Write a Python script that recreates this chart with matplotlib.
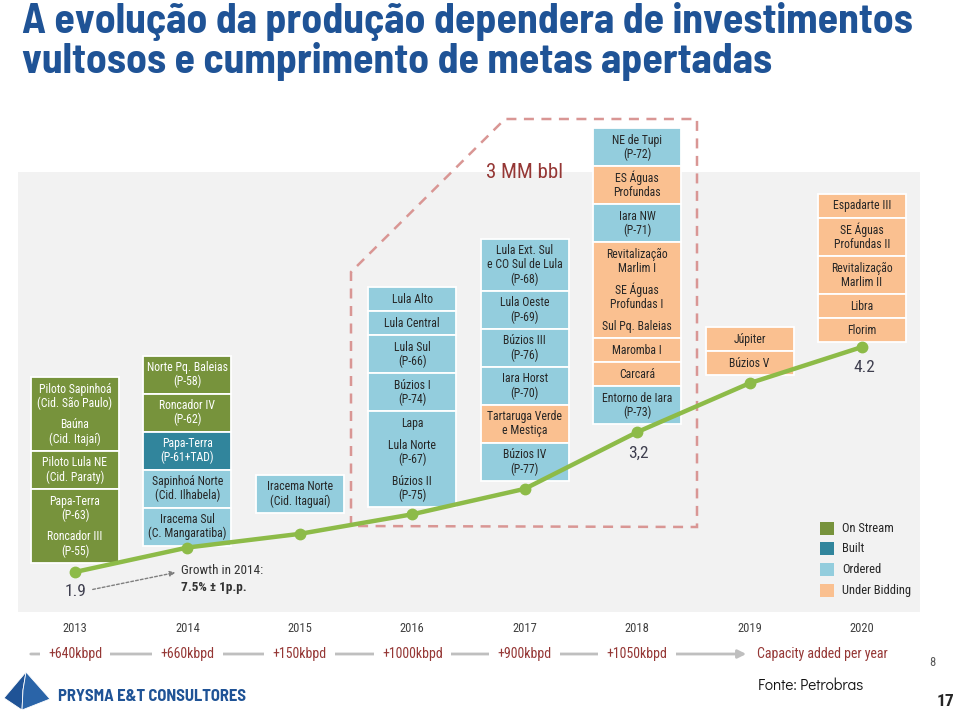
import matplotlib
matplotlib.use('Agg')
import matplotlib.pyplot as plt
from matplotlib.patches import Rectangle, Polygon
from matplotlib import font_manager, transforms

# ---- dados ----
years = [2013, 2014, 2015, 2016, 2017, 2018, 2019, 2020]
production = [1.9, 2.15, 2.29, 2.49, 2.75, 3.33, 3.83, 4.2]   # MM bbl/d (estimado)
point_labels = {2013: '1.9', 2018: '3,2', 2020: '4.2'}
capacity_added = ['+640kbpd', '+660kbpd', '+150kbpd', '+1000kbpd', '+900kbpd', '+1050kbpd']

status_names = ['On Stream', 'Built', 'Ordered', 'Under Bidding']
status_colors = {'On Stream': '#77933c', 'Built': '#31859c',
                 'Ordered': '#93cddd', 'Under Bidding': '#fac090'}

col_2013 = [("Piloto Sapinhoá\n(Cid. São Paulo)\n\nBaúna\n(Cid. Itajaí)", 'On Stream'),
            ("Piloto Lula NE\n(Cid. Paraty)", 'On Stream'),
            ("Papa-Terra\n(P-63)\n\nRoncador III\n(P-55)", 'On Stream')]
col_2014 = [("Norte Pq. Baleias\n(P-58)", 'On Stream'),
            ("Roncador IV\n(P-62)", 'On Stream'),
            ("Papa-Terra\n(P-61+TAD)", 'Built'),
            ("Sapinhoá Norte\n(Cid. Ilhabela)", 'Ordered'),
            ("Iracema Sul\n(C. Mangaratiba)", 'Ordered')]
col_2015 = [("Iracema Norte\n(Cid. Itaguaí)", 'Ordered')]
col_2016 = [("Lula Alto", 'Ordered'),
            ("Lula Central", 'Ordered'),
            ("Lula Sul\n(P-66)", 'Ordered'),
            ("Búzios I\n(P-74)", 'Ordered'),
            ("Lapa\n\nLula Norte\n(P-67)\n\nBúzios II\n(P-75)", 'Ordered')]
col_2017 = [("Lula Ext. Sul\ne CO Sul de Lula\n(P-68)", 'Ordered'),
            ("Lula Oeste\n(P-69)", 'Ordered'),
            ("Búzios III\n(P-76)", 'Ordered'),
            ("Iara Horst\n(P-70)", 'Ordered'),
            ("Tartaruga Verde\ne Mestiça", 'Under Bidding'),
            ("Búzios IV\n(P-77)", 'Ordered')]
col_2018 = [("NE de Tupi\n(P-72)", 'Ordered'),
            ("ES Águas\nProfundas", 'Under Bidding'),
            ("Iara NW\n(P-71)", 'Ordered'),
            ("Revitalização\nMarlim I\n\nSE Águas\nProfundas I\n\nSul Pq. Baleias", 'Under Bidding'),
            ("Maromba I", 'Under Bidding'),
            ("Carcará", 'Under Bidding'),
            ("Entorno de Iara\n(P-73)", 'Ordered')]
col_2019 = [("Júpiter", 'Under Bidding'),
            ("Búzios V", 'Under Bidding')]
col_2020 = [("Espadarte III", 'Under Bidding'),
            ("SE Águas\nProfundas II", 'Under Bidding'),
            ("Revitalização\nMarlim II", 'Under Bidding'),
            ("Libra", 'Under Bidding'),
            ("Florim", 'Under Bidding')]
columns = [col_2013, col_2014, col_2015, col_2016, col_2017, col_2018, col_2019, col_2020]


def pick(*names):
    for n in names:
        try:
            font_manager.findfont(font_manager.FontProperties(family=n), fallback_to_default=False)
            return n
        except ValueError:
            pass
    return 'DejaVu Sans'


NARROW = pick('Roboto Condensed', 'PT Sans Narrow', 'Archivo Narrow', 'Asap Condensed')
TITLE = pick('Barlow Semi Condensed', 'Barlow Condensed', 'Asap Condensed')
LOGO = pick('Barlow Semi Condensed', 'Barlow Condensed', 'Asap Condensed')
ROUND = pick('Didact Gothic', 'Questrial', 'Poppins', 'Lato')

W, H = 960, 713
fig = plt.figure(figsize=(W / 100, H / 100), dpi=100)

# camada de layout em pixels
lay = fig.add_axes([0, 0, 1, 1])
lay.set_xlim(0, W)
lay.set_ylim(H, 0)
lay.axis('off')

# eixo de dados (anos x produção) alinhado ao painel
x0_px, x1_px = 75, 862
y_lo_px, y_hi_px = 572, 347
px_per_year = (x1_px - x0_px) / (years[-1] - years[0])
px_per_unit = (y_lo_px - y_hi_px) / (production[-1] - production[0])

ax = fig.add_axes([0, 0, 1, 1], zorder=3)
ax.patch.set_visible(False)
ax.set_xlim(years[0] - x0_px / px_per_year, years[0] + (W - x0_px) / px_per_year)
ax.set_ylim(production[0] - (H - y_lo_px) / px_per_unit, production[0] + y_lo_px / px_per_unit)
ax.axis('off')

xdata_ypix = transforms.blended_transform_factory(ax.transData, lay.transData)

# painel cinza
lay.add_patch(Rectangle((18, 172), 902, 440, fc='#f2f2f2', ec='none', zorder=0))

# título
title_lines = ["A evolução da produção dependera de investimentos",
               "vultosos e cumprimento de metas apertadas"]
t1 = lay.text(22, 33, title_lines[0], fontsize=30, fontweight='bold', family=TITLE,
              color='#1f5396', va='baseline', ha='left')
t2 = lay.text(22, 73, title_lines[1], fontsize=30, fontweight='bold', family=TITLE,
              color='#1f5396', va='baseline', ha='left')
r = fig.canvas.get_renderer()
w = t1.get_window_extent(r).width
fs = min(30 * 896 / w, 30)
t1.set_fontsize(fs)
t2.set_fontsize(fs)

# colunas de projetos
box_w = 88
gaps = [9, 2, 21, 7, 8, 8, 8, 5]
line_h, blank_h, pad = 14, 8, 5


def cell_height(txt):
    lines = txt.split('\n')
    return 2 * pad + sum(line_h if l else blank_h for l in lines)


for yr, prod, col, gap in zip(years, production, columns, gaps):
    cx = x0_px + (yr - years[0]) * px_per_year
    py = y_lo_px - (prod - production[0]) * px_per_unit
    bottom = py - gap
    top = bottom - sum(cell_height(t) for t, _ in col)
    y = top
    for txt, st in col:
        h = cell_height(txt)
        lay.add_patch(Rectangle((cx - box_w / 2, y), box_w, h, fc=status_colors[st],
                                ec='white', lw=1.3, zorder=2))
        tc = 'white' if st in ('On Stream', 'Built') else '#262626'
        ly = y + pad
        for l in txt.split('\n'):
            if not l:
                ly += blank_h
                continue
            lay.text(cx, ly + line_h / 2, l, ha='center', va='center', fontsize=8.5,
                     family=NARROW, color=tc, zorder=4)
            ly += line_h
        y += h

# linha de produção
ax.plot(years, production, color='#8dbb48', lw=3.2, marker='o', ms=7.5,
        solid_capstyle='round', zorder=5)
label_off = {2013: (1, -19), 2018: (1, -21), 2020: (2, -21)}
for yr, prod in zip(years, production):
    if yr in point_labels:
        ax.annotate(point_labels[yr], (yr, prod), xytext=label_off[yr], textcoords='offset pixels',
                    ha='center', va='center', fontsize=12.5, family=NARROW, color='#3f3f4f')

# caixa tracejada "3 MM bbl"
lay.add_patch(Polygon([(351, 526), (351, 272), (505, 119), (697, 119), (697, 527)], closed=True,
                      fill=False, ec='#d99694', lw=1.8, ls=(0, (4, 3)), zorder=1))
lay.text(525, 173, '3 MM bbl', ha='center', va='center', fontsize=15, family=NARROW,
         color='#953735', zorder=4)

# growth
lay.annotate('', xy=(178, 572), xytext=(90, 590),
             arrowprops=dict(arrowstyle='-|>', color='#7f7f7f', lw=1, ls=(0, (2, 1.5)),
                             mutation_scale=8), zorder=4)
lay.text(181, 570, 'Growth in 2014:', ha='left', va='center', fontsize=9.5, family=NARROW,
         color='#333333')
lay.text(181, 587, '7.5% ± 1p.p.', ha='left', va='center', fontsize=9.5, family=NARROW,
         fontweight='bold', color='#333333')

# legenda
for i, st in enumerate(status_names):
    yc = 528 + i * 20.7
    lay.add_patch(Rectangle((820, yc - 6.5), 14, 13, fc=status_colors[st], ec='none', zorder=2))
    lay.text(842, yc, st, ha='left', va='center', fontsize=9, family=NARROW, color='#262626')

# anos e capacidade adicionada
for yr in years:
    ax.text(yr, 628, str(yr), transform=xdata_ypix, ha='center', va='center', fontsize=9,
            family=NARROW, color='#404040')
lay.annotate('', xy=(749, 654), xytext=(28, 654),
             arrowprops=dict(arrowstyle='-|>', color='#bfbfbf', lw=2, mutation_scale=12), zorder=1)
for yr, lab in zip(years, capacity_added):
    ax.text(yr, 654, lab, transform=xdata_ypix, ha='center', va='center', fontsize=10,
            family=NARROW, color='#953735', zorder=6,
            bbox=dict(fc='white', ec='none', pad=6))
lay.text(757, 654, 'Capacity added per year', ha='left', va='center', fontsize=10,
         family=NARROW, color='#953735', bbox=dict(fc='white', ec='none', pad=3), zorder=6)

# rodapé
lay.add_patch(Polygon([(26, 672), (4, 698), (22, 710), (23, 690)], closed=True,
                      fc='#1f5396', ec='white', lw=0.6, zorder=2))
lay.add_patch(Polygon([(26, 672), (50, 699), (22, 710), (23, 690)], closed=True,
                      fc='#2a64a8', ec='white', lw=0.6, zorder=2))
tl = lay.text(58, 701, 'PRYSMA E&T CONSULTORES', ha='left', va='baseline', fontsize=13,
              fontweight='bold', family=LOGO, color='#1f5396')
tl.set_fontsize(13 * 189 / tl.get_window_extent(r).width)
lay.text(811, 686, 'Fonte: Petrobras', ha='center', va='center', fontsize=11, family=ROUND,
         color='#111111')
lay.text(932, 662, '8', ha='center', va='center', fontsize=9, family=NARROW, color='#595959')
lay.text(946, 701, '17', ha='center', va='center', fontsize=12.5, fontweight='bold', family=NARROW,
         color='#262626')

fig.savefig('out.png', dpi=100)
